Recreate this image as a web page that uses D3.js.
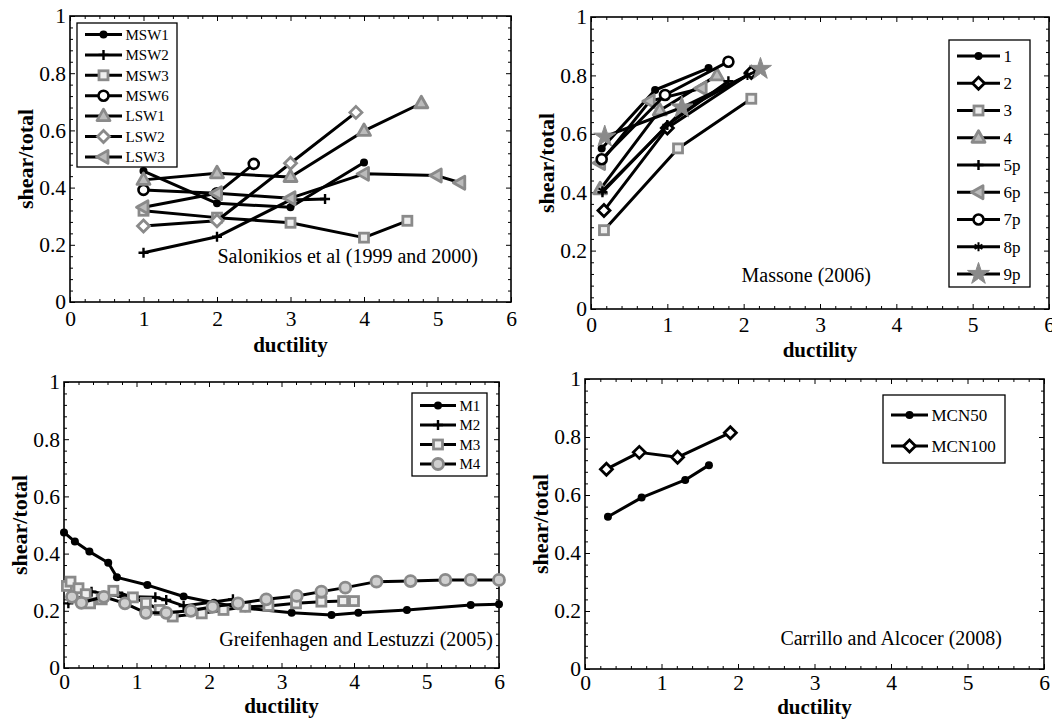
<!DOCTYPE html>
<html>
<head>
<meta charset="utf-8">
<script src="https://cdn.jsdelivr.net/npm/d3@7"></script>
<style>
  body { margin: 0; background: #fff; }
  svg text { font-family: "Liberation Serif", "Times New Roman", serif; fill: #000; }
</style>
</head>
<body>
<svg id="chart" width="1052" height="723"></svg>
<script>
// ---- data ----

// Salonikios et al (1999 and 2000)
const salNames = ["MSW1", "MSW2", "MSW3", "MSW6", "LSW1", "LSW2", "LSW3"];
const salX = [
  [1, 2, 3, 4],
  [1, 2, 3, 3.47],
  [1, 2, 3, 4, 4.59],
  [1, 2, 2.5],
  [1, 2, 3, 4, 4.78],
  [1, 2, 3, 3.89],
  [1, 2, 3, 4, 4.99, 5.31],
];
const salY = [
  [0.458, 0.345, 0.331, 0.488],
  [0.172, 0.228, 0.357, 0.36],
  [0.319, 0.295, 0.277, 0.225, 0.284],
  [0.392, 0.38, 0.483],
  [0.427, 0.45, 0.437, 0.598, 0.695],
  [0.266, 0.284, 0.485, 0.663],
  [0.331, 0.38, 0.363, 0.448, 0.442, 0.417],
];

// Massone (2006)
const masNames = ["1", "2", "3", "4", "5p", "6p", "7p", "8p", "9p"];
const masX = [
  [0.14, 0.84, 1.54],
  [0.17, 1.0, 2.1],
  [0.17, 1.14, 2.1],
  [0.12, 0.9, 1.65],
  [0.15, 1.0, 1.8],
  [0.12, 0.77, 1.45],
  [0.14, 0.97, 1.8],
  [0.15, 1.2, 2.05],
  [0.18, 1.19, 2.22],
];
const masY = [
  [0.55, 0.75, 0.825],
  [0.337, 0.62, 0.81],
  [0.27, 0.55, 0.72],
  [0.41, 0.68, 0.80],
  [0.40, 0.63, 0.78],
  [0.50, 0.712, 0.756],
  [0.513, 0.733, 0.847],
  [0.405, 0.68, 0.80],
  [0.59, 0.69, 0.822],
];

// Greifenhagen and Lestuzzi (2005)
const greNames = ["M1", "M2", "M3", "M4"];
const greX = [
  [0, 0.15, 0.35, 0.61, 0.73, 1.15, 1.65, 2.07, 2.5, 3.14, 3.69, 4.06, 4.73, 5.61, 6.0],
  [0.06, 0.38, 0.8, 1.26, 1.41, 1.65, 2.33],
  [0.04, 0.09, 0.2, 0.3, 0.36, 0.52, 0.68, 0.95, 1.13, 1.32, 1.5, 1.9, 2.2, 2.5, 2.82, 3.2, 3.55, 3.85, 4.0],
  [0.11, 0.24, 0.55, 0.84, 1.13, 1.41, 1.75, 2.05, 2.4, 2.79, 3.21, 3.55, 3.88, 4.31, 4.78, 5.26, 5.61, 6.0],
];
const greY = [
  [0.474, 0.442, 0.407, 0.368, 0.317, 0.29, 0.25, 0.228, 0.209, 0.193, 0.185, 0.193, 0.203, 0.22, 0.223],
  [0.226, 0.267, 0.25, 0.247, 0.238, 0.217, 0.24],
  [0.287, 0.302, 0.279, 0.258, 0.226, 0.24, 0.27, 0.247, 0.228, 0.203, 0.18, 0.191, 0.203, 0.214, 0.217, 0.226, 0.232, 0.234, 0.234],
  [0.249, 0.228, 0.249, 0.226, 0.193, 0.193, 0.2, 0.214, 0.226, 0.24, 0.252, 0.267, 0.281, 0.302, 0.304, 0.308, 0.308, 0.308],
];

// Carrillo and Alcocer (2008)
const carNames = ["MCN50", "MCN100"];
const carX = [
  [0.30, 0.74, 1.31, 1.62],
  [0.28, 0.71, 1.21, 1.9],
];
const carY = [
  [0.525, 0.591, 0.652, 0.703],
  [0.689, 0.747, 0.73, 0.815],
];

const X_TICKS = [0, 1, 2, 3, 4, 5, 6];
const Y_TICKS = [0, 0.2, 0.4, 0.6, 0.8, 1];
const X_LABEL = "ductility";
const Y_LABEL = "shear/total";

// ---- styles / layout ----
const GREY = "#8a8a8a";

// marker kind per series, in legend order
const salMarkers = ["dot", "plus", "greySquare", "blackRing", "greyTriUp", "greyDiamond", "greyTriLeft"];
const masMarkers = ["dot", "blackDiamond", "greySquare", "greyTriUp", "plus", "greyTriLeft", "blackRing", "asterisk", "greyStar"];
const greMarkers = ["dot", "plus", "greySquare", "greyCircle"];
const carMarkers = ["dot", "blackDiamond"];

const panels = [
  {
    box: { left: 70, right: 511, top: 16, bottom: 302 },
    names: salNames, xs: salX, ys: salY, markers: salMarkers,
    tickPad: 9, xLabelDy: 50,
    note: "Salonikios et al (1999 and 2000)", noteAt: [478, 263],
    legend: { x: 77, y: 23, w: 100, h: 144, first: 34.5, step: 20.4, font: 15, len: 37 },
  },
  {
    box: { left: 591, right: 1049, top: 17, bottom: 309 },
    names: masNames, xs: masX, ys: masY, markers: masMarkers,
    tickPad: 8, xLabelDy: 48,
    note: "Massone (2006)", noteAt: [871, 282],
    legend: { x: 949, y: 40, w: 81, h: 247, first: 56, step: 27.25, font: 17, len: 43 },
  },
  {
    box: { left: 64, right: 499, top: 382, bottom: 668 },
    names: greNames, xs: greX, ys: greY, markers: greMarkers,
    tickPad: 6, xLabelDy: 45,
    note: "Greifenhagen and Lestuzzi (2005)", noteAt: [493, 646],
    legend: { x: 412, y: 393, w: 75, h: 83, first: 405.5, step: 19.5, font: 15, len: 36 },
  },
  {
    box: { left: 585, right: 1044, top: 379, bottom: 669 },
    names: carNames, xs: carX, ys: carY, markers: carMarkers,
    tickPad: 6, xLabelDy: 45,
    note: "Carrillo and Alcocer (2008)", noteAt: [1002, 645],
    legend: { x: 883, y: 395, w: 122, h: 68, first: 415, step: 31, font: 17, len: 37 },
  },
];

const svg = d3.select("#chart");

function drawMarker(g, kind) {
  switch (kind) {
    case "dot":
      g.append("circle").attr("r", 4).attr("fill", "#000");
      break;
    case "plus":
      g.append("path").attr("d", "M-5,0H5M0,-5V5")
        .attr("stroke", "#000").attr("stroke-width", 2.4).attr("fill", "none");
      break;
    case "asterisk":
      g.append("path").attr("d", "M0,-4.5V4.5M-3.9,-2.25L3.9,2.25M-3.9,2.25L3.9,-2.25")
        .attr("stroke", "#000").attr("stroke-width", 2).attr("fill", "none");
      break;
    case "blackRing":
      g.append("circle").attr("r", 5).attr("fill", "#fff")
        .attr("stroke", "#000").attr("stroke-width", 2.6);
      break;
    case "greyCircle":
      g.append("circle").attr("r", 5.5).attr("fill", "#cfcfcf")
        .attr("stroke", GREY).attr("stroke-width", 2.8);
      break;
    case "greySquare":
      g.append("rect").attr("x", -4.5).attr("y", -4.5).attr("width", 9).attr("height", 9)
        .attr("fill", "#eee").attr("stroke", GREY).attr("stroke-width", 2.8);
      break;
    case "greyDiamond":
    case "blackDiamond":
      g.append("path").attr("d", "M0,-6L6,0L0,6L-6,0Z")
        .attr("fill", "#fff")
        .attr("stroke", kind === "greyDiamond" ? GREY : "#000")
        .attr("stroke-width", 2.8);
      break;
    case "greyTriUp":
    case "greyTriLeft":
      g.append("path").attr("d", "M0,-7L6.5,4.5L-6.5,4.5Z")
        .attr("transform", kind === "greyTriLeft" ? "rotate(-90)" : null)
        .attr("fill", "#bbb").attr("stroke", GREY).attr("stroke-width", 2.8)
        .attr("stroke-linejoin", "round");
      break;
    case "greyStar":
      g.append("path").attr("d", d3.symbol(d3.symbolStar, 150)())
        .attr("fill", GREY).attr("stroke", GREY).attr("stroke-width", 1);
      break;
  }
}

function minor(step, max, majorStep) {
  return d3.range(0, max + 1e-9, step).filter((v) => {
    const r = v / majorStep;
    return Math.abs(r - Math.round(r)) > 1e-6;
  });
}

function drawPanel(p) {
  const { left, right, top, bottom } = p.box;
  const x = d3.scaleLinear().domain([0, 6]).range([left, right]);
  const y = d3.scaleLinear().domain([0, 1]).range([bottom, top]);
  const root = svg.append("g");

  // ticks on all four sides, pointing inward
  const ax = root.append("g").attr("stroke-width", 1);
  const sides = [
    [d3.axisBottom, x, `translate(0,${bottom})`, X_TICKS, minor(0.2, 6, 1), true],
    [d3.axisTop, x, `translate(0,${top})`, X_TICKS, minor(0.2, 6, 1), false],
    [d3.axisLeft, y, `translate(${left},0)`, Y_TICKS, minor(0.04, 1, 0.2), true],
    [d3.axisRight, y, `translate(${right},0)`, Y_TICKS, minor(0.04, 1, 0.2), false],
  ];
  sides.forEach(([axisFn, scale, tr, major, small, labels]) => {
    const gMaj = ax.append("g").attr("transform", tr).call(
      axisFn(scale).tickValues(major).tickSize(-5).tickSizeOuter(0)
        .tickPadding(axisFn === d3.axisBottom ? p.tickPad : 4)
        .tickFormat(labels ? d3.format("~g") : "")
    );
    const gMin = ax.append("g").attr("transform", tr).call(
      axisFn(scale).tickValues(small).tickSize(-3).tickSizeOuter(0).tickFormat("")
    );
    [gMaj, gMin].forEach((g) => g.select(".domain").remove());
    gMaj.selectAll("text").attr("font-size", 21.5);
  });

  root.append("rect")
    .attr("x", left).attr("y", top)
    .attr("width", right - left).attr("height", bottom - top)
    .attr("fill", "none").attr("stroke", "#000").attr("stroke-width", 1.6);

  // series
  const line = d3.line().x((d) => x(d[0])).y((d) => y(d[1]));
  p.names.forEach((name, i) => {
    const pts = p.xs[i].map((v, j) => [v, p.ys[i][j]]);
    const gs = root.append("g");
    gs.append("path").attr("d", line(pts))
      .attr("fill", "none").attr("stroke", "#000").attr("stroke-width", 3)
      .attr("stroke-linejoin", "round");
    gs.selectAll("g.m").data(pts).join("g").attr("class", "m")
      .attr("transform", (d) => `translate(${x(d[0])},${y(d[1])})`)
      .each(function () { drawMarker(d3.select(this), p.markers[i]); });
  });

  // annotation
  root.append("text")
    .attr("x", p.noteAt[0]).attr("y", p.noteAt[1])
    .attr("text-anchor", "end").attr("font-size", 20)
    .text(p.note);

  // axis labels
  root.append("text")
    .attr("x", (left + right) / 2).attr("y", bottom + p.xLabelDy)
    .attr("text-anchor", "middle").attr("font-size", 21).attr("font-weight", "bold")
    .text(X_LABEL);
  const yl = left - 45, ym = (top + bottom) / 2;
  root.append("text")
    .attr("x", yl).attr("y", ym)
    .attr("transform", `rotate(-90,${yl},${ym})`)
    .attr("text-anchor", "middle").attr("dy", "0.35em")
    .attr("font-size", 22).attr("font-weight", "bold")
    .text(Y_LABEL);

  // legend
  const L = p.legend;
  const lg = root.append("g");
  lg.append("rect").attr("x", L.x).attr("y", L.y).attr("width", L.w).attr("height", L.h)
    .attr("fill", "#fff").attr("stroke", "#000").attr("stroke-width", 1.3);
  p.names.forEach((name, i) => {
    const cy = L.first + i * L.step;
    const x1 = L.x + 8, x2 = x1 + L.len;
    const item = lg.append("g");
    item.append("line").attr("x1", x1).attr("x2", x2).attr("y1", cy).attr("y2", cy)
      .attr("stroke", "#000").attr("stroke-width", 3);
    drawMarker(item.append("g").attr("transform", `translate(${(x1 + x2) / 2},${cy})`), p.markers[i]);
    item.append("text").attr("x", x2 + 3.5).attr("y", cy).attr("dy", "0.35em")
      .attr("font-size", L.font).text(name);
  });
}

panels.forEach(drawPanel);
</script>
</body>
</html>
